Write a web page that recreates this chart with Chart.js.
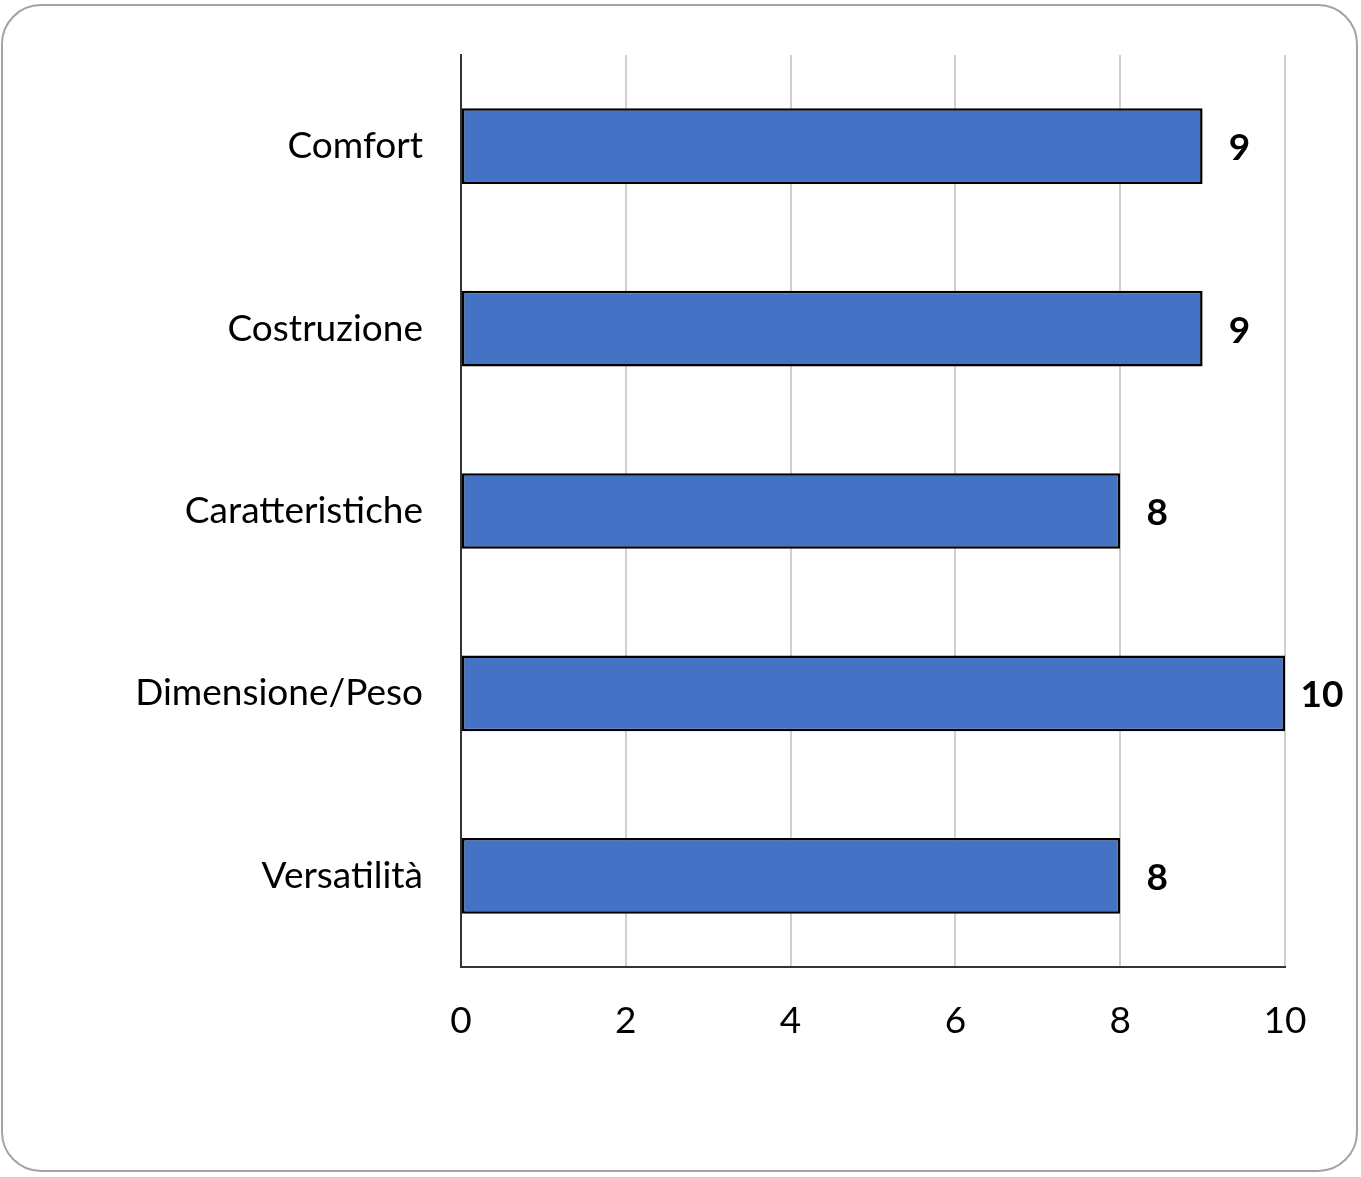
<!DOCTYPE html>
<html>
<head>
<meta charset="utf-8">
<script src="https://cdn.jsdelivr.net/npm/chart.js@4"></script>
<style>
  html, body { margin: 0; padding: 0; background: #fff; }
  #wrap { position: relative; width: 1361px; height: 1177px; }
  #frame { position: absolute; left: 1px; top: 4px; width: 1353px; height: 1164px;
           border: 2px solid #a3a3a3; border-radius: 40px; pointer-events: none; }
  canvas { position: absolute; left: 0; top: 0; }
</style>
</head>
<body>
<div id="wrap">
  <canvas id="c" width="1361" height="1177"></canvas>
  <div id="frame"></div>
</div>
<script>
const categories = ["Comfort", "Costruzione", "Caratteristiche", "Dimensione/Peso", "Versatilità"];
const scores = [9, 9, 8, 10, 8];
const xTicks = [0, 2, 4, 6, 8, 10];

const FONT = "Lato, 'Open Sans', sans-serif";

const valueLabels = {
  id: 'valueLabels',
  afterDatasetsDraw(chart) {
    const ctx = chart.ctx;
    const meta = chart.getDatasetMeta(0);
    ctx.save();
    ctx.font = "bold 37px " + FONT;
    ctx.fillStyle = '#000';
    ctx.textAlign = 'center';
    ctx.textBaseline = 'middle';
    meta.data.forEach((bar, i) => {
      ctx.fillText(String(scores[i]), bar.x + 37, bar.y + 2);
    });
    ctx.restore();
  }
};

new Chart(document.getElementById('c'), {
  type: 'bar',
  data: {
    labels: categories,
    datasets: [{
      data: scores,
      backgroundColor: '#4472C4',
      borderColor: '#000',
      borderWidth: 2.5,
      borderSkipped: false,
      categoryPercentage: 1,
      barPercentage: 0.415
    }]
  },
  options: {
    indexAxis: 'y',
    responsive: false,
    animation: false,
    devicePixelRatio: 1,
    layout: { padding: { top: 55, right: 76, bottom: 0, left: 0 } },
    plugins: { legend: { display: false }, tooltip: { enabled: false } },
    scales: {
      x: {
        min: 0, max: 10,
        afterBuildTicks(s) { s.ticks = xTicks.map(v => ({ value: v })); },
        afterFit(s) { s.height = 210; },
        grid: {
          color: (c) => c.tick && c.tick.value === 0 ? 'rgba(0,0,0,0)' : '#d0d0d0',
          lineWidth: 2,
          drawTicks: false
        },
        border: { display: true, color: '#333', width: 2 },
        ticks: { color: '#000', font: { family: FONT, size: 37 }, padding: 32 }
      },
      y: {
        afterFit(s) { s.width = 461; s.paddingTop = 0; s.paddingBottom = 0; },
        grid: { display: false, drawTicks: false },
        border: { display: true, color: '#333', width: 2 },
        ticks: { color: '#000', font: { family: FONT, size: 37 }, padding: 38 }
      }
    }
  },
  plugins: [valueLabels]
});
</script>
</body>
</html>
